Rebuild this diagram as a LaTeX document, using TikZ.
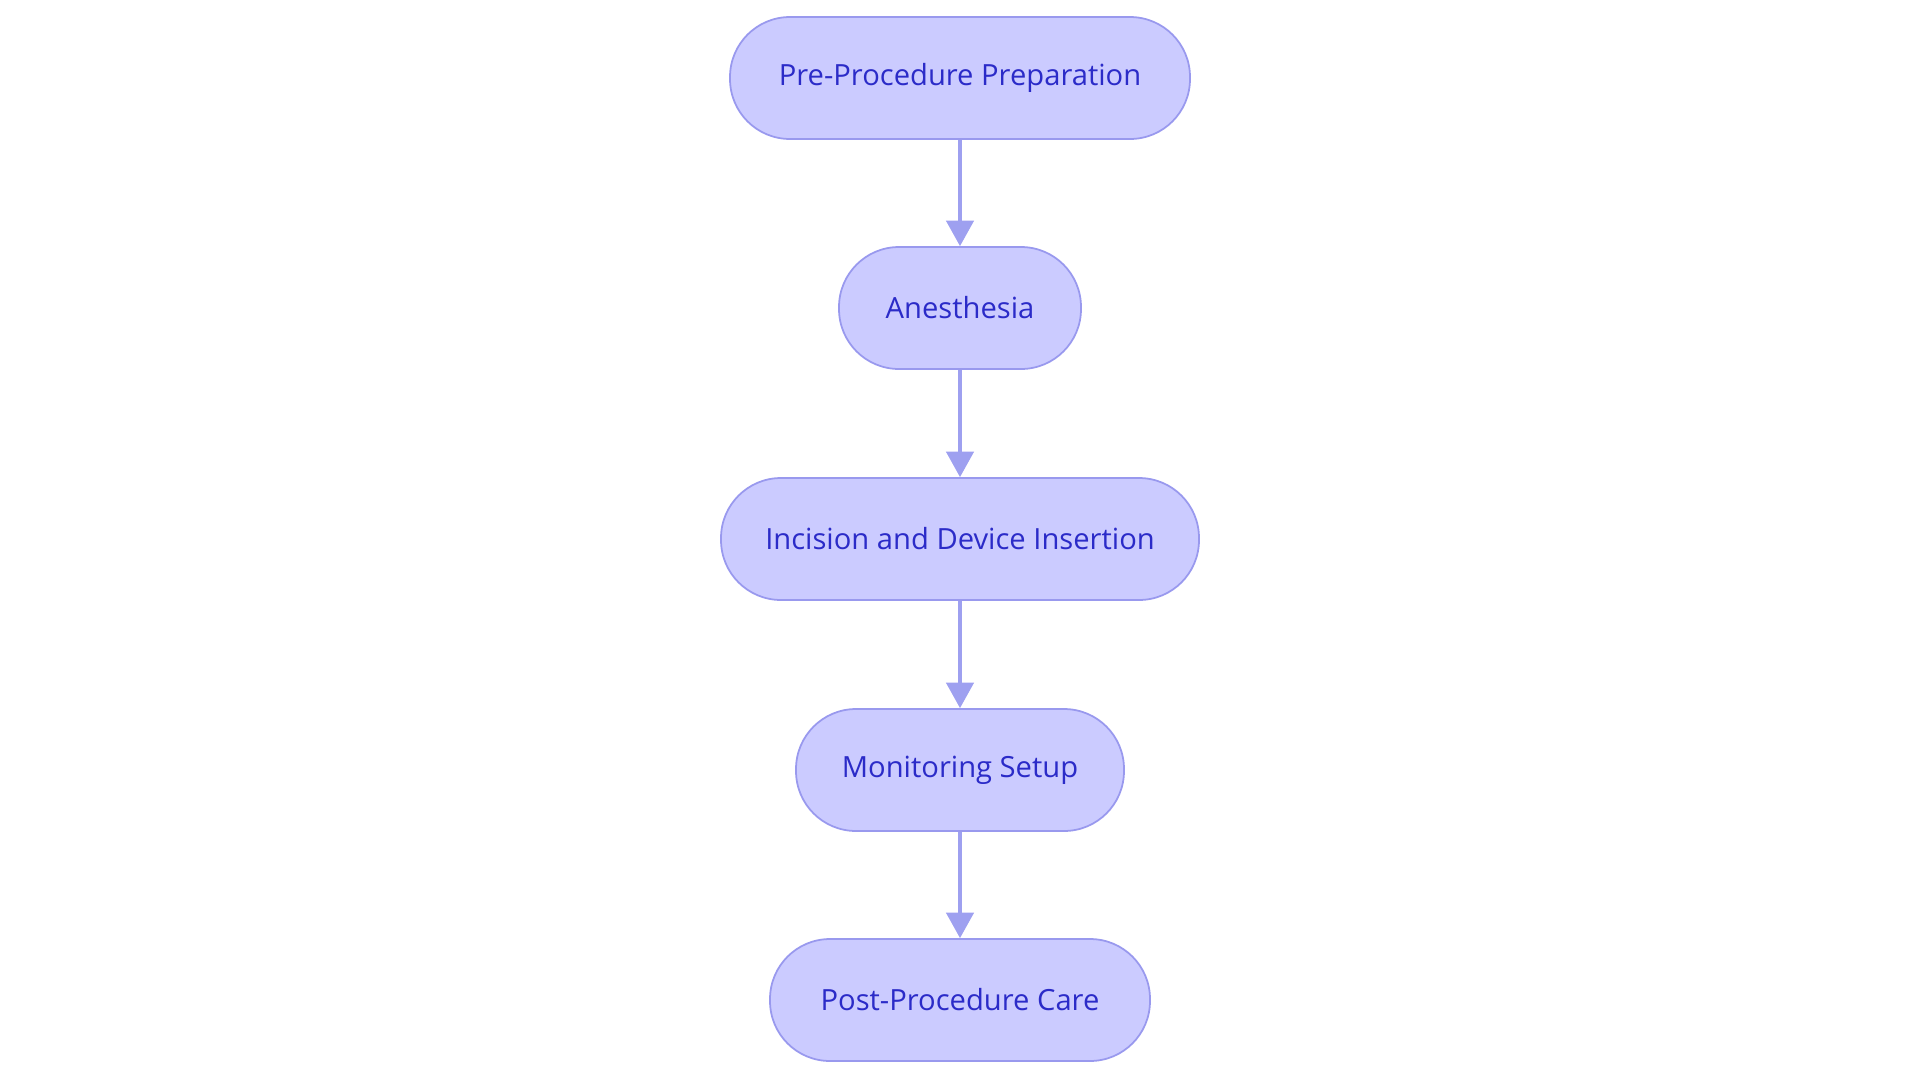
\documentclass[tikz,border=0pt]{standalone}
\usepackage{fontspec}
\setmainfont{Open Sans}
\usetikzlibrary{arrows.meta}
\definecolor{stepfill}{RGB}{203,203,255}
\definecolor{stepline}{RGB}{153,153,238}
\definecolor{steptext}{RGB}{43,43,200}
\definecolor{arrowblue}{RGB}{158,160,240}
\tikzset{
    stepbox/.style={draw=stepline, fill=stepfill, line width=1pt, rounded corners=1.2cm,
        minimum height=2.44cm, text=steptext, font=\fontsize{16.6}{19}\selectfont},
    flow/.style={draw=arrowblue, line width=2.1pt, -{Triangle[width=15.5pt,length=14.5pt]}}
}
\begin{document}
\begin{tikzpicture}[x=0.02cm, y=-0.02cm]
        \useasboundingbox (0,0) rectangle (1920,1083);
        % Steps
        \foreach \n/\y/\w/\txt in {s1/78/460/Pre-Procedure Preparation, s2/308/242/Anesthesia,
            s3/539/478/Incision and Device Insertion, s4/770/328/Monitoring Setup,
            s5/1000/380/Post-Procedure Care} {
            \node[stepbox, minimum width=\w*0.02cm] (\n) at (960,\y) {\txt};
        }
        % Connectors
        \foreach \a/\b in {s1/s2, s2/s3, s3/s4, s4/s5} {
            \draw[flow] (\a) -- (\b);
        }
\end{tikzpicture}
\end{document}
